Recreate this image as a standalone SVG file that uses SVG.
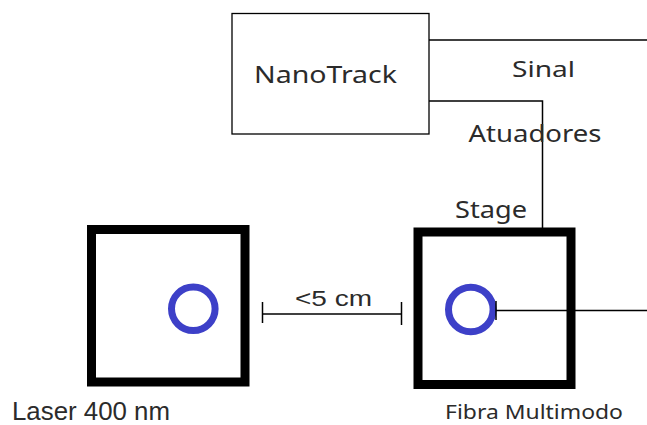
<svg xmlns="http://www.w3.org/2000/svg" width="647" height="425" viewBox="0 0 647 425">
  <style>
    .lbl { font-family: "Noto Sans", "Open Sans", sans-serif; fill: #2b2b2b; }
    .lbl2 { font-family: "Liberation Sans", Arial, sans-serif; fill: #2b2b2b; }
    .thin { fill: none; stroke: #000; stroke-width: 1.5; }
    .stage { fill: none; stroke: #000; stroke-width: 9; }
    .port { fill: none; stroke: #3d40c8; stroke-width: 7; }
  </style>
  <rect width="647" height="425" fill="#fff"/>
  <g id="nanotrack">
    <rect x="232" y="13.5" width="197" height="120.5" fill="#fff" stroke="#000" stroke-width="1.3"/>
    <text class="lbl" x="254" y="83.3" font-size="23" textLength="143" lengthAdjust="spacingAndGlyphs">NanoTrack</text>
  </g>
  <g id="laser">
    <rect class="stage" x="91.5" y="229.5" width="153.5" height="152.5"/>
    <circle class="port" cx="193.3" cy="308.8" r="21.8"/>
    <text class="lbl2" x="12" y="420" font-size="26" textLength="158" lengthAdjust="spacingAndGlyphs">Laser 400 nm</text>
  </g>
  <g id="stage">
    <rect class="stage" x="418" y="232" width="153" height="152.5"/>
    <circle class="port" cx="470.8" cy="309.5" r="22.3"/>
    <text class="lbl" x="445" y="419" font-size="20" textLength="178" lengthAdjust="spacingAndGlyphs">Fibra Multimodo</text>
  </g>
  <g id="connectors">
    <polyline class="thin" points="429,40 647,40"/>
    <polyline class="thin" points="429,101 542.5,101 542.5,228"/>
    <line class="thin" x1="262.5" y1="314" x2="401.5" y2="314"/>
    <line class="thin" x1="262.5" y1="302" x2="262.5" y2="323"/>
    <line class="thin" x1="401.5" y1="302" x2="401.5" y2="325"/>
    <line class="thin" x1="496" y1="310.5" x2="647" y2="310.5"/>
    <line class="thin" x1="496" y1="301" x2="496" y2="320"/>
  </g>
  <g id="labels">
    <text class="lbl" x="512" y="76.7" font-size="21" textLength="63" lengthAdjust="spacingAndGlyphs">Sinal</text>
    <text class="lbl" x="468.5" y="141.7" font-size="24" textLength="133" lengthAdjust="spacingAndGlyphs">Atuadores</text>
    <text class="lbl" x="455" y="217.7" font-size="24" textLength="72" lengthAdjust="spacingAndGlyphs">Stage</text>
    <text class="lbl2" x="295" y="305.7" font-size="22" textLength="77" lengthAdjust="spacingAndGlyphs">&lt;5 cm</text>
  </g>
</svg>
